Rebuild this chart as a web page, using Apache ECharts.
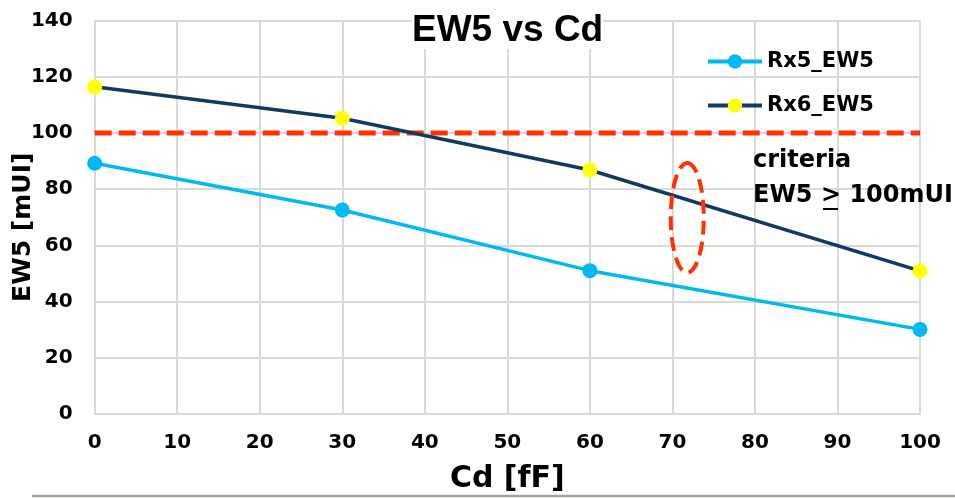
<!DOCTYPE html>
<html>
<head>
<meta charset="utf-8">
<script src="https://cdn.jsdelivr.net/npm/echarts@6/dist/echarts.min.js"></script>
<style>
html,body{margin:0;padding:0;background:#fff;}
#main{width:955px;height:498px;}
</style>
</head>
<body>
<div id="main"></div>
<script>
// ---- data ----
var cdValues = [0, 30, 60, 100];
var rx5EW5 = [89.2, 72.6, 51.0, 30.1];
var rx6EW5 = [116.4, 105.2, 86.8, 50.9];
var criteriaValue = 100;
var xTicks = [0, 100, 10];   // min, max, interval
var yTicks = [0, 140, 20];
var ellipseCenter = [71.8, 69.8];
var ellipseRadius = [2.0, 19.5]; // in data units
var seriesNames = ['Rx5_EW5', 'Rx6_EW5'];

var FONT = '"DejaVu Sans", sans-serif';
var chart = echarts.init(document.getElementById('main'), null, {renderer: 'canvas'});

function pairs(xs, ys) { return xs.map(function (x, i) { return [x, ys[i]]; }); }

var option = {
  animation: false,
  backgroundColor: '#fff',
  title: {
    text: 'EW5 vs Cd',
    left: 412, top: 12,
    padding: 0,
    backgroundColor: '#fff',
    textStyle: {fontFamily: '"Liberation Sans", Arial, sans-serif', fontWeight: 'bold', fontSize: 37, color: '#000'}
  },
  legend: {
    data: seriesNames,
    orient: 'vertical',
    left: 706, top: 51,
    padding: 0,
    itemWidth: 54, itemHeight: 18,
    itemGap: 23,
    lineStyle: {width: 4},
    textStyle: {fontFamily: FONT, fontWeight: 'bold', fontSize: 21, color: '#000'}
  },
  grid: {left: 94.7, right: 35, top: 20.5, bottom: 84, containLabel: false, outerBoundsMode: 'none'},
  xAxis: {
    type: 'value',
    min: xTicks[0], max: xTicks[1], interval: xTicks[2],
    name: 'Cd [fF]',
    nameLocation: 'middle',
    nameGap: 50,
    nameMoveOverlap: false,
    nameTextStyle: {fontFamily: FONT, fontWeight: 'bold', fontSize: 30, color: '#000'},
    axisLine: {show: true, lineStyle: {color: '#d9d9d9', width: 2}},
    axisTick: {show: false},
    axisLabel: {margin: 19, fontFamily: FONT, fontWeight: 'bold', fontSize: 20, color: '#000'},
    splitLine: {show: true, lineStyle: {color: '#d9d9d9', width: 2}}
  },
  yAxis: {
    type: 'value',
    min: yTicks[0], max: yTicks[1], interval: yTicks[2],
    name: 'EW5 [mUI]',
    nameLocation: 'middle',
    nameRotate: 90,
    nameGap: 59,
    nameMoveOverlap: false,
    nameTextStyle: {fontFamily: FONT, fontWeight: 'bold', fontSize: 25, color: '#000', padding: [0, 20, 0, 0]},
    axisLine: {show: true, lineStyle: {color: '#d9d9d9', width: 2}},
    axisTick: {show: false},
    axisLabel: {margin: 22, fontFamily: FONT, fontWeight: 'bold', fontSize: 20, color: '#000'},
    splitLine: {show: true, lineStyle: {color: '#d9d9d9', width: 2}}
  },
  series: [
    {
      name: 'criteria',
      type: 'line',
      data: [[xTicks[0], criteriaValue], [xTicks[1], criteriaValue]],
      symbol: 'none',
      lineStyle: {color: '#ff3300', width: 5, type: [17, 7]},
      z: 1,
      silent: true
    },
    {
      name: seriesNames[0],
      type: 'line',
      data: pairs(cdValues, rx5EW5),
      symbol: 'circle',
      symbolSize: 15,
      showAllSymbol: true,
      lineStyle: {color: '#00b9f1', width: 3.5},
      itemStyle: {color: '#00b9f1', borderWidth: 0},
      z: 3
    },
    {
      name: seriesNames[1],
      type: 'line',
      data: pairs(cdValues, rx6EW5),
      symbol: 'circle',
      symbolSize: 15,
      lineStyle: {color: '#0f3a63', width: 3.5},
      itemStyle: {color: '#ffff00', borderWidth: 0},
      z: 3
    }
  ]
};
chart.setOption(option);

// ---- annotations (ellipse, criteria text, slide rule) ----
var c = chart.convertToPixel({gridIndex: 0}, ellipseCenter);
var ex = chart.convertToPixel({gridIndex: 0}, [ellipseCenter[0] + ellipseRadius[0], ellipseCenter[1]]);
var ey = chart.convertToPixel({gridIndex: 0}, [ellipseCenter[0], ellipseCenter[1] + ellipseRadius[1]]);
var rx = Math.abs(ex[0] - c[0]), ry = Math.abs(c[1] - ey[1]);
var pts = [];
for (var i = 0; i < 90; i++) {
  var a = -Math.PI / 2 + i / 90 * Math.PI * 2;
  pts.push([c[0] + rx * Math.cos(a), c[1] + ry * Math.sin(a)]);
}

var ctx = document.createElement('canvas').getContext('2d');
ctx.font = 'bold 24px "DejaVu Sans"';
var wPre = ctx.measureText('EW5 ').width;
var wGt = ctx.measureText('>').width;
var textLeft = 753;

chart.setOption({
  graphic: [
    {type: 'polygon', shape: {points: pts}, z: 10,
     style: {fill: 'none', stroke: '#ff3300', lineWidth: 4, lineDash: [14, 7]}},
    {type: 'text', left: textLeft, top: 149, z: 10,
     style: {text: 'criteria', fill: '#000', font: 'bold 24px "DejaVu Sans", sans-serif'}},
    {type: 'text', left: textLeft, top: 184, z: 10,
     style: {text: 'EW5 > 100mUI', fill: '#000', font: 'bold 24px "DejaVu Sans", sans-serif'}},
    {type: 'line', z: 10,
     shape: {x1: textLeft + wPre + 2, y1: 209, x2: textLeft + wPre + wGt - 3, y2: 209},
     style: {stroke: '#000', lineWidth: 2}},
    {type: 'line', z: 10,
     shape: {x1: 32, y1: 496, x2: 955, y2: 496},
     style: {stroke: '#a3a39b', lineWidth: 2.5}}
  ]
});
</script>
</body>
</html>
